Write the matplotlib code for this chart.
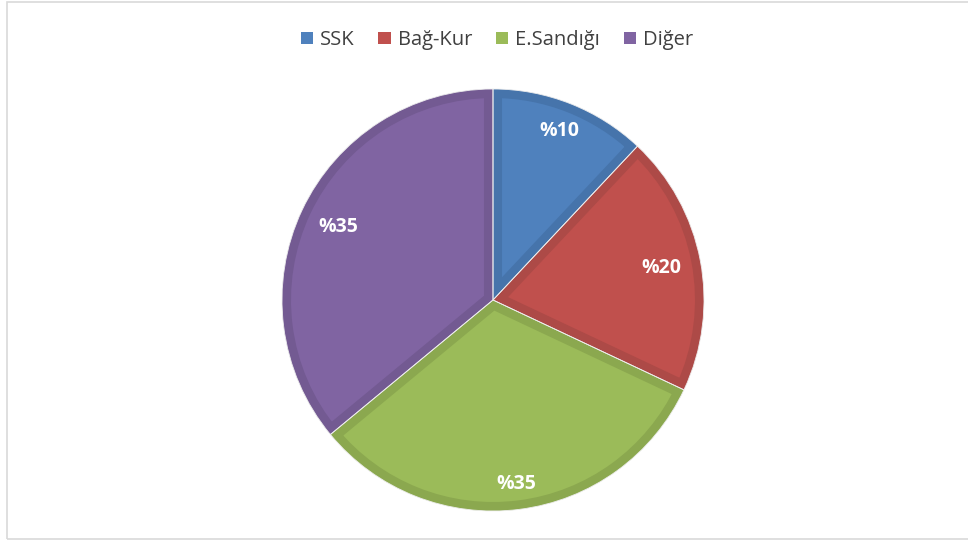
import numpy as np
import matplotlib.pyplot as plt
from matplotlib.patches import Rectangle, Patch

# data
categories = ['SSK', 'Bağ-Kur', 'E.Sandığı', 'Diğer']
shares = [12, 20, 32, 36]
pct_labels = ['%10', '%20', '%35', '%35']

face_colors = ['#4F81BD', '#C0504D', '#9BBB59', '#8064A2']
edge_colors = ['#4674AB', '#AD4A47', '#8BA84F', '#735A92']
label_dist = [0.86, 0.81, 0.88, 0.81]

plt.rcParams['font.family'] = ['Open Sans', 'DejaVu Sans']

W, H = 968, 542
fig = plt.figure(figsize=(W / 100, H / 100), dpi=100)

# light grey chart-area border
fig.patches.append(Rectangle((6.5 / W, 3.5 / H), 1.0, (H - 5) / H,
                             transform=fig.transFigure, fill=False,
                             edgecolor='#D9D9D9', linewidth=1.2))

cx, cy, r = 493, H - 300, 211
ax = fig.add_axes([(cx - r) / W, (cy - r) / H, 2 * r / W, 2 * r / H])

wedges, _ = ax.pie(shares, colors=face_colors, startangle=90, counterclock=False,
                   radius=1.0, wedgeprops=dict(linewidth=0))

# inner darker stroke: wide edge clipped to the wedge itself
for w, ec in zip(wedges, edge_colors):
    w.set_edgecolor(ec)
    w.set_linewidth(13)
    w.set_clip_on(True)
    w.set_clip_path(w)

# thin light separators
ax.pie(shares, colors=['none'] * 4, startangle=90, counterclock=False,
       radius=1.0, wedgeprops=dict(linewidth=0.6, edgecolor='#EEEEEE', fill=False))

for w, txt, d in zip(wedges, pct_labels, label_dist):
    ang = np.deg2rad((w.theta1 + w.theta2) / 2)
    ax.text(d * np.cos(ang), d * np.sin(ang), txt, ha='center', va='center',
            color='white', fontsize=14, fontweight='bold')

ax.set_xlim(-1, 1)
ax.set_ylim(-1, 1)
ax.set_aspect('equal')
ax.axis('off')

handles = [Patch(facecolor=c, edgecolor='none') for c in face_colors]
fig.legend(handles, categories, loc='center', bbox_to_anchor=(497 / W, 1 - 40 / H),
           ncol=4, frameon=False, fontsize=14.5, handlelength=0.6, handleheight=0.6,
           handletextpad=0.35, columnspacing=1.2, labelcolor='#404040')

fig.savefig('out.png', dpi=100)
